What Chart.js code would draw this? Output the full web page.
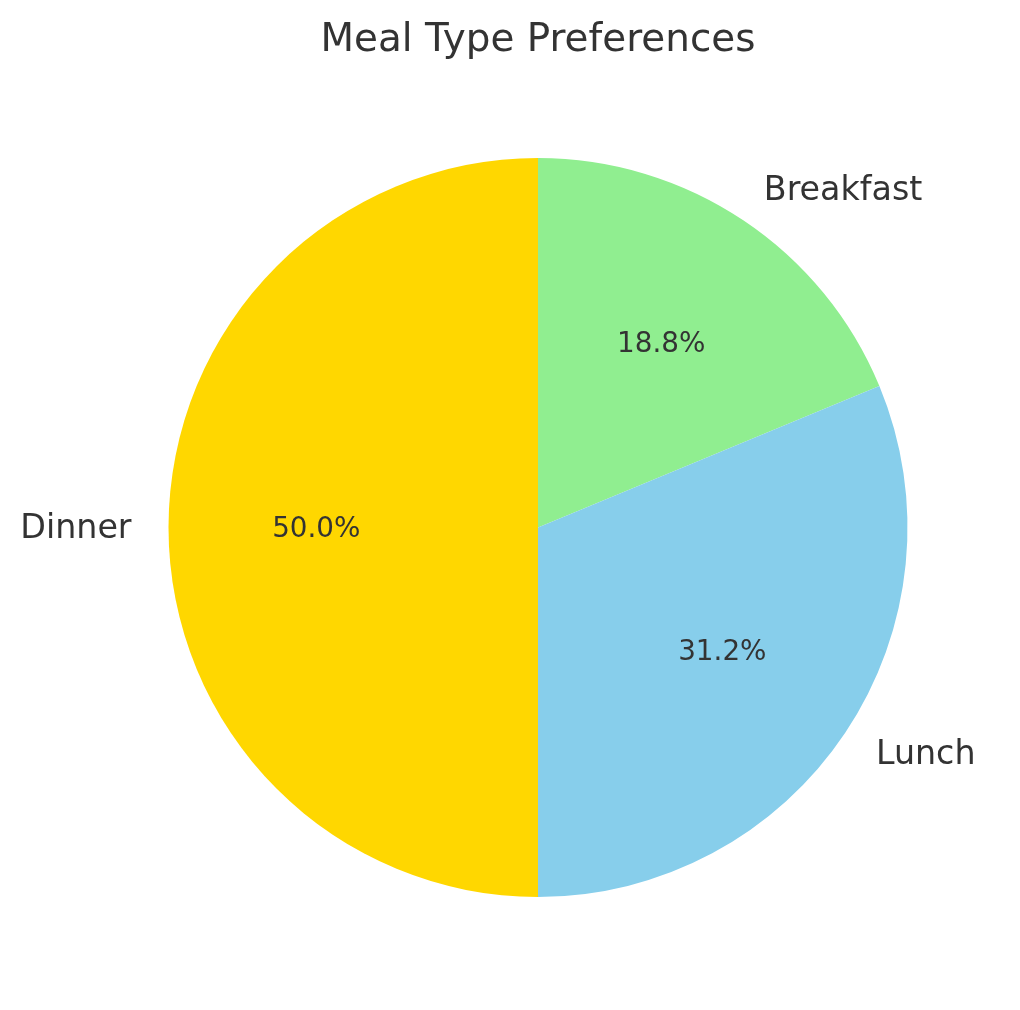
<!DOCTYPE html>
<html>
<head>
<meta charset="utf-8">
<script src="https://cdn.jsdelivr.net/npm/chart.js@4/dist/chart.umd.min.js"></script>
<style>
html,body{margin:0;padding:0;background:#fff;}
#wrap{width:1020px;height:1010px;position:relative;}
</style>
</head>
<body>
<div id="wrap"><canvas id="c" width="1020" height="1010"></canvas></div>
<script>
const chartTitle = "Meal Type Preferences";
const categories = ["Breakfast", "Lunch", "Dinner"];
const counts = [3, 5, 8];
const sliceColors = ["#90EE90", "#87CEEB", "#FFD700"];

const FONT = "'DejaVu Sans', sans-serif";
const TEXT = "#333333";

// Python-style "%1.1f" (round half to even)
function fmtPct(v) {
  const s = v * 10;
  const f = Math.floor(s);
  const diff = s - f;
  let r;
  if (Math.abs(diff - 0.5) < 1e-9) r = (f % 2 === 0) ? f : f + 1;
  else r = Math.round(s);
  return (r / 10).toFixed(1) + "%";
}

const labelPlugin = {
  id: 'pieLabels',
  afterDraw(chart) {
    const ctx = chart.ctx;
    const meta = chart.getDatasetMeta(0);
    const total = counts.reduce((a, b) => a + b, 0);
    ctx.save();
    ctx.fillStyle = TEXT;
    ctx.font = "38.9px " + FONT;
    ctx.textAlign = 'center';
    ctx.textBaseline = 'alphabetic';
    ctx.fillText(chartTitle, (chart.chartArea.left + chart.chartArea.right) / 2, 51);
    meta.data.forEach((arc, i) => {
      const p = arc.getProps(['x', 'y', 'startAngle', 'endAngle', 'outerRadius'], true);
      const mid = (p.startAngle + p.endAngle) / 2;
      const cx = Math.cos(mid), cy = Math.sin(mid);
      const lx = p.x + cx * p.outerRadius * 1.1;
      const ly = p.y + cy * p.outerRadius * 1.1 + 2;
      ctx.font = "33.3px " + FONT;
      ctx.textBaseline = 'middle';
      ctx.textAlign = cx > 1e-6 ? 'left' : (cx < -1e-6 ? 'right' : 'center');
      ctx.fillText(categories[i], lx, ly);
      const px = p.x + cx * p.outerRadius * 0.6;
      const py = p.y + cy * p.outerRadius * 0.6 + 2;
      ctx.font = "27.8px " + FONT;
      ctx.textAlign = 'center';
      ctx.fillText(fmtPct(counts[i] / total * 100), px, py);
    });
    ctx.restore();
  }
};

new Chart(document.getElementById('c'), {
  type: 'pie',
  data: {
    labels: categories,
    datasets: [{
      data: counts,
      backgroundColor: sliceColors,
      borderWidth: 0
    }]
  },
  options: {
    responsive: false,
    animation: false,
    layout: { padding: { left: 168, right: 112, top: 158, bottom: 113 } },
    plugins: {
      legend: { display: false },
      tooltip: { enabled: false },
      title: { display: false }
    }
  },
  plugins: [labelPlugin]
});
</script>
</body>
</html>
